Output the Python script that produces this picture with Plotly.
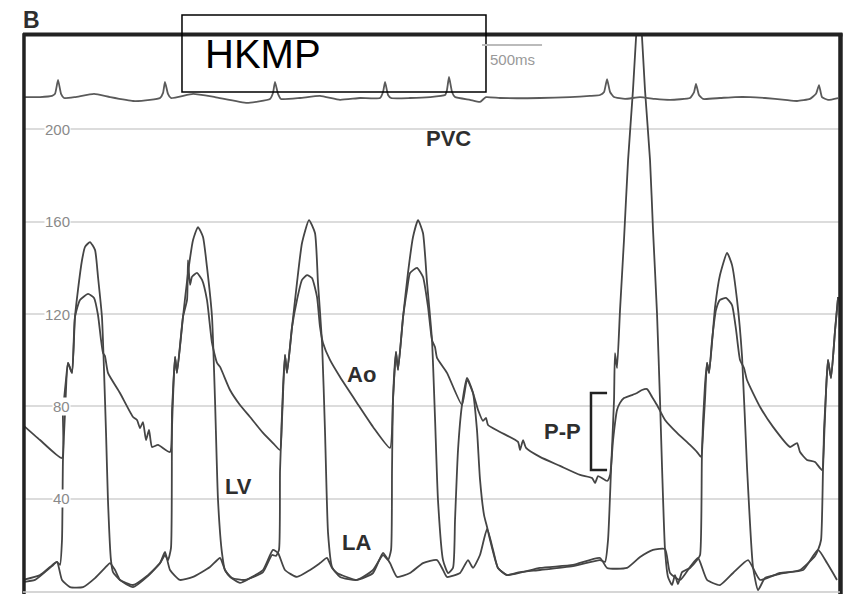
import plotly.graph_objects as go

# time in ms, pressure in mmHg
ecg_t = [0,142,242,267,292,317,342,433,592,725,917,1058,1142,1167,1183,1208,1233,1417,1600,1867,2058,2083,2100,2125,2150,2308,2475,2642,2808,2975,3000,3017,3042,3067,3225,3392,3517,3533,3550,3575,3600,3725,3808,3858,3975,4308,4558,4725,4808,4842,4867,4892,4925,5017,5142,5267,5392,5558,5592,5608,5633,5667,5808,5933,6058,6183,6350,6450,6558,6608,6633,6658,6708,6792]
ecg_p = [214.0,214.0,214.5,215.4,221.4,215.4,213.6,214.0,215.4,214.0,212.3,212.8,213.6,215.8,220.6,215.4,213.6,215.4,214.0,211.5,213.2,215.8,220.6,215.4,213.2,213.6,214.5,212.8,213.6,213.6,216.2,220.6,214.9,213.6,213.6,214.0,214.9,217.1,222.7,216.2,214.0,212.8,211.9,214.0,213.6,213.6,214.0,214.5,214.9,216.2,221.8,216.2,214.0,213.2,214.0,213.2,212.8,213.6,216.2,219.7,214.9,213.2,213.6,214.0,214.0,213.6,212.8,212.3,213.2,215.4,219.2,214.0,212.8,213.6]

ao_t = [0,142,325,333,358,375,408,433,475,542,592,625,650,667,683,708,808,917,950,975,1000,1025,1050,1075,1125,1225,1242,1267,1283,1333,1367,1375,1392,1408,1450,1492,1533,1575,1617,1642,1725,1808,1892,2000,2083,2142,2158,2183,2200,2242,2283,2325,2367,2408,2450,2475,2500,2558,2642,2783,2917,3058,3083,3108,3125,3167,3200,3225,3283,3333,3375,3408,3433,3450,3533,3658,3700,3750,3792,3833,3858,3875,3975,4125,4142,4167,4192,4308,4475,4642,4742,4767,4792,4867,4892,4917,4950,4975,5008,5033,5075,5117,5158,5200,5242,5283,5350,5450,5558,5617,5650,5667,5683,5700,5717,5742,5775,5808,5858,5908,5942,5975,6008,6033,6142,6250,6392,6450,6475,6533,6600,6658,6675,6692,6708,6733,6767,6792]
ao_p = [71.9,65.4,57.6,77.1,91.4,98.8,94.5,118.7,126.1,128.7,127.0,119.6,108.8,103.1,101.8,94.5,85.8,75.4,74.1,70.6,73.2,65.4,69.8,62.4,63.3,60.2,78.4,101.4,94.5,118.7,126.1,143.4,132.6,136.1,137.8,134.8,126.1,107.5,98.8,97.1,87.1,80.6,75.4,68.5,64.1,61.1,74.1,102.3,94.5,114.4,126.1,134.8,136.9,135.6,127.4,114.4,107.5,100.1,92.7,81.5,71.1,62.0,82.8,103.6,95.8,118.7,130.4,137.8,140.0,136.1,123.1,108.8,105.7,101.0,94.5,80.6,91.4,85.8,78.4,73.7,75.0,71.9,68.9,64.6,61.1,65.4,62.0,58.1,54.2,50.3,49.0,46.8,49.8,47.7,50.3,65.4,78.4,81.5,83.6,84.1,84.9,85.8,87.1,87.5,84.1,80.6,74.1,68.5,63.3,60.2,58.1,74.1,89.3,98.8,94.5,108.8,121.8,126.1,127.0,123.9,113.1,100.1,96.6,91.4,79.7,71.1,62.4,64.1,60.2,56.8,55.9,52.4,69.8,87.1,100.1,92.3,113.1,127.4]

lv_t = [0,100,183,242,283,308,325,333,350,375,408,433,458,492,517,558,600,625,658,675,692,708,733,750,808,917,1033,1142,1183,1208,1233,1242,1267,1283,1333,1375,1417,1458,1500,1533,1575,1600,1625,1658,1683,1742,1850,2000,2075,2108,2133,2142,2167,2183,2200,2242,2283,2325,2383,2433,2458,2492,2517,2542,2575,2642,2783,2917,3000,3042,3067,3075,3083,3108,3125,3167,3208,3250,3292,3333,3367,3408,3433,3458,3500,3542,3583,3600,3625,3658,3700,3750,3783,3808,3842,3867,3892,3958,4033,4142,4308,4583,4808,4850,4875,4900,4925,4933,4950,4975,5008,5042,5083,5117,5133,5150,5183,5225,5250,5283,5308,5325,5350,5375,5408,5433,5458,5492,5558,5617,5642,5658,5683,5700,5717,5767,5808,5867,5908,5950,5992,6033,6083,6125,6183,6308,6475,6600,6625,6650,6667,6692,6708,6733,6767,6792]
lv_p = [3.9,4.8,8.2,10.8,12.6,11.3,22.1,56.8,77.1,98.8,94.5,118.7,130.4,143.4,149.1,151.2,147.8,136.1,118.7,95.8,68.5,39.4,13.4,8.2,4.8,2.6,6.5,12.1,15.6,13.4,18.6,71.1,101.4,94.5,118.7,137.8,152.1,157.7,153.4,140.4,118.7,82.8,39.4,16.5,9.1,5.6,4.8,8.2,15.6,15.2,17.8,52.4,88.4,102.3,94.5,114.4,133.5,150.8,160.7,155.1,133.5,107.5,68.5,25.1,10.4,6.1,4.8,9.1,15.6,13.4,17.8,52.4,82.8,103.6,95.8,118.7,137.8,153.4,160.7,155.1,133.5,108.8,75.4,39.4,13.4,7.8,10.0,30.8,61.1,80.6,92.3,85.8,69.8,48.5,32.9,27.7,22.1,10.0,6.9,8.2,9.1,10.8,13.4,12.6,22.1,52.4,82.8,103.1,96.6,121.8,152.1,186.7,217.1,247.4,258.0,247.4,217.1,186.7,156.3,120.5,82.8,53.7,17.8,6.1,2.6,6.9,3.0,8.2,10.0,13.4,15.6,59.8,82.8,98.8,94.5,123.1,136.9,146.5,141.3,126.1,101.4,53.7,10.4,0.4,5.6,7.4,9.1,15.2,17.8,22.1,53.7,87.1,100.1,92.3,113.1,127.4]

la_t = [0,142,225,283,325,392,500,600,683,725,767,808,917,1033,1142,1183,1225,1308,1417,1558,1642,1683,1725,1808,1892,2000,2083,2125,2183,2283,2392,2475,2533,2575,2617,2783,2917,3000,3058,3117,3225,3333,3450,3500,3533,3642,3708,3750,3808,3867,3917,3958,4033,4308,4583,4808,4867,5033,5142,5250,5350,5392,5475,5558,5625,5700,5808,5917,6042,6142,6308,6500,6625,6700,6783]
la_p = [4.8,6.9,10.4,12.6,4.8,1.7,1.7,5.6,10.0,12.1,9.1,4.8,1.7,6.1,12.1,16.9,9.1,4.8,6.1,10.4,14.3,9.1,6.1,3.5,5.6,9.1,17.8,16.5,9.1,6.1,9.1,12.1,14.3,10.0,7.8,4.8,7.8,16.5,12.1,6.1,7.8,12.1,13.4,9.1,6.1,7.8,13.4,10.0,15.6,26.9,17.8,10.0,6.9,10.0,11.3,14.3,10.0,10.0,14.7,17.8,18.2,7.8,4.8,10.4,14.3,4.8,2.6,7.8,13.4,4.8,7.8,9.1,17.8,12.1,4.8]

grid_vals = [40, 80, 120, 160, 200]
grid_text = ["40", "80", "120", "160", "200"]

X_MAX = 6808
Y_MIN, Y_MAX = -0.43, 240.9
trace_color = "#454545"

fig = go.Figure()
for t, p in [(la_t, la_p), (lv_t, lv_p), (ao_t, ao_p)]:
    fig.add_trace(go.Scatter(x=t, y=p, mode="lines",
                             line=dict(color=trace_color, width=1.8, shape="spline", smoothing=0.5),
                             hoverinfo="skip", showlegend=False))
fig.add_trace(go.Scatter(x=ecg_t, y=ecg_p, mode="lines",
                         line=dict(color="#5a5a5a", width=1.8, shape="spline", smoothing=0.4),
                         hoverinfo="skip", showlegend=False))

ann = []
for v, s in zip(grid_vals, grid_text):
    ann.append(dict(x=400, y=v, xref="x", yref="y", text=s, showarrow=False,
                    xanchor="right", yanchor="middle", bgcolor="white", borderpad=0,
                    font=dict(family="Liberation Sans", size=15, color="#8a8a8a")))

lab_font = dict(family="Liberation Sans", size=22, color="#2e2e2e")
for txt, x, y in [("PVC", 3542, 195.9), ("Ao", 2817, 94.0), ("LV", 1792, 45.1),
                  ("LA", 2783, 21.2), ("P-P", 4492, 68.9)]:
    ann.append(dict(x=x, y=y, xref="x", yref="y", text="<b>%s</b>" % txt,
                    showarrow=False, xanchor="center", yanchor="middle", font=lab_font))

ann.append(dict(x=4075, y=230.1, xref="x", yref="y", text="500ms", showarrow=False,
                xanchor="center", yanchor="middle",
                font=dict(family="Liberation Sans", size=15, color="#999999")))
ann.append(dict(x=0.0098, y=1.027, xref="paper", yref="paper", text="<b>B</b>",
                showarrow=False, xanchor="center", yanchor="middle",
                font=dict(family="Liberation Sans", size=23, color="#2e2e2e")))
ann.append(dict(x=0.2200, y=0.966, xref="paper", yref="paper", text="HKMP",
                showarrow=False, xanchor="left", yanchor="middle",
                font=dict(family="Liberation Sans", size=40, color="#000000")))

shapes = [
    # frame
    dict(type="line", xref="paper", yref="paper", x0=0.0012, x1=0.0012, y0=-0.01, y1=1.003,
         line=dict(color="#222222", width=3.5)),
    dict(type="line", xref="paper", yref="paper", x0=0, x1=1.003, y0=1.0009, y1=1.0009,
         line=dict(color="#222222", width=4)),
    dict(type="line", xref="paper", yref="paper", x0=1.0006, x1=1.0006, y0=-0.01, y1=1.003,
         line=dict(color="#222222", width=4.5)),
    dict(type="line", xref="paper", yref="paper", x0=0, x1=1, y0=0.0, y1=0.0,
         line=dict(color="#c8c8c8", width=1.5)),
    # HKMP box
    dict(type="rect", xref="paper", yref="paper", x0=0.1946, x1=0.5667, y0=0.8977, y1=1.0359,
         line=dict(color="#000000", width=1.5), fillcolor="rgba(0,0,0,0)"),
    # 500 ms scale bar
    dict(type="line", xref="x", yref="y", x0=3825, x1=4325, y0=236.6, y1=236.6,
         line=dict(color="#bbbbbb", width=2)),
    # P-P bracket
    dict(type="path", xref="x", yref="y",
         path="M 4867 85.8 L 4733 85.8 L 4733 52.4 L 4867 52.4",
         line=dict(color="#222222", width=2.5)),
]

fig.update_layout(
    width=857, height=594,
    margin=dict(l=23, r=17, t=35, b=2),
    paper_bgcolor="white", plot_bgcolor="white",
    xaxis=dict(range=[0, X_MAX], showgrid=False, zeroline=False, showticklabels=False,
               showline=False, ticks=""),
    yaxis=dict(range=[Y_MIN, Y_MAX], tickvals=grid_vals, showticklabels=False,
               showgrid=True, gridcolor="#dcdcdc", gridwidth=2, zeroline=False,
               showline=False, ticks=""),
    annotations=ann, shapes=shapes, showlegend=False,
)

fig.write_html("out.html")
